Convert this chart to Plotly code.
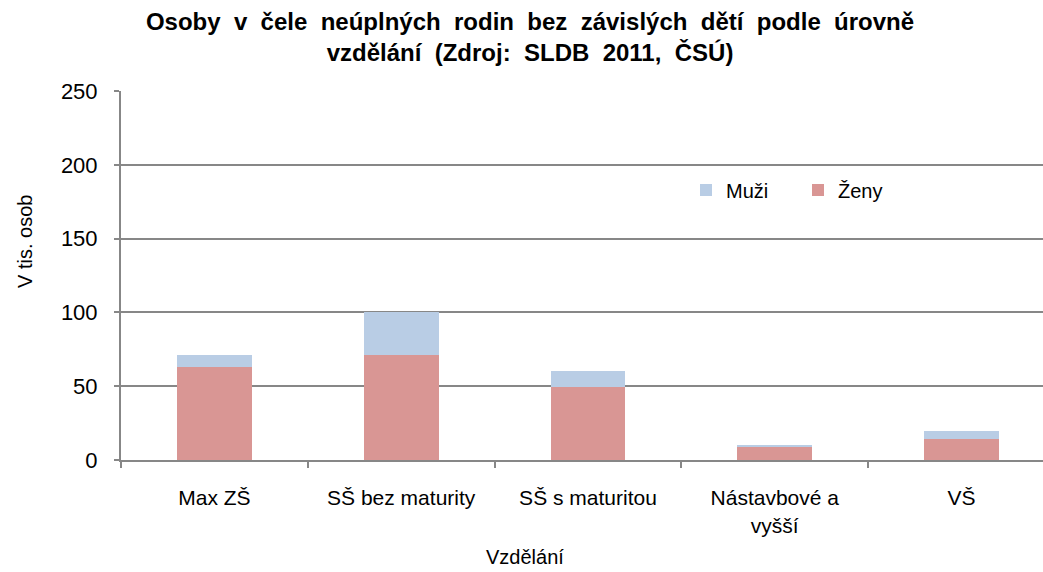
import plotly.graph_objects as go

categories = ["Max ZŠ", "SŠ bez maturity", "SŠ s maturitou", "Nástavbové a<br>vyšší", "VŠ"]
zeny = [63, 71, 49.5, 9, 14]
muzi = [8, 29, 11, 1.5, 5.5]
y_ticks = [0, 50, 100, 150, 200, 250]

FONT = "Liberation Sans, Arial, sans-serif"
GRID = "#878787"

title_l1 = "Osoby v čele neúplných rodin bez závislých dětí podle úrovně"
title_l2 = "vzdělání (Zdroj: SLDB 2011, ČSÚ)"
wide = lambda s: s.replace(" ", "\u00a0 ")

fig = go.Figure()
fig.add_trace(go.Bar(name="Ženy", x=categories, y=zeny, marker=dict(color="#D99694", line=dict(width=0))))
fig.add_trace(go.Bar(name="Muži", x=categories, y=muzi, marker=dict(color="#B9CDE5", line=dict(width=0))))

fig.update_layout(
    width=1043, height=572,
    barmode="stack", bargap=0.6,
    plot_bgcolor="white", paper_bgcolor="white",
    margin=dict(l=121, r=0, t=91, b=112),
    font=dict(family=FONT, size=20, color="black"),
    title=dict(
        text="<b>" + wide(title_l1) + "<br>" + wide(title_l2) + "</b>",
        x=530/1043, xanchor="center", xref="container",
        y=1 - 30/572, yanchor="top", yref="container",
        font=dict(family=FONT, size=24, color="black"),
    ),
    legend=dict(
        orientation="h", traceorder="reversed",
        x=(686 - 121) / (1043 - 121), xanchor="left",
        y=(460 - 190) / 369, yanchor="middle",
        entrywidth=67, bgcolor="rgba(0,0,0,0)",
        font=dict(size=20),
    ),
    showlegend=True,
)

fig.update_xaxes(
    range=[-0.5, 4.436],
    showline=True, linecolor=GRID, linewidth=2,
    ticks="outside", tickson="boundaries", ticklen=6, tickcolor=GRID, tickwidth=2,
    showgrid=False, tickfont=dict(size=21), ticklabelstandoff=18,
)
fig.update_yaxes(
    range=[0, 250], tickvals=y_ticks,
    showline=True, linecolor=GRID, linewidth=2,
    ticks="outside", ticklen=5, tickcolor=GRID, tickwidth=2,
    showgrid=True, gridcolor=GRID, gridwidth=2,
    zeroline=False, tickfont=dict(size=22), ticklabelstandoff=12,
)

fig.add_annotation(text="V tis. osob", textangle=-90, xref="paper", yref="paper",
                   x=(25 - 121) / 922, y=(460 - 242) / 369, showarrow=False,
                   xanchor="center", yanchor="middle", font=dict(size=20))
fig.add_annotation(text="Vzdělání", xref="paper", yref="paper",
                   x=(525 - 121) / 922, y=(460 - 557) / 369, showarrow=False,
                   xanchor="center", yanchor="middle", font=dict(size=20))

fig.write_html("out.html", config={"displayModeBar": False},
               post_script="document.body.style.margin='0px';")
